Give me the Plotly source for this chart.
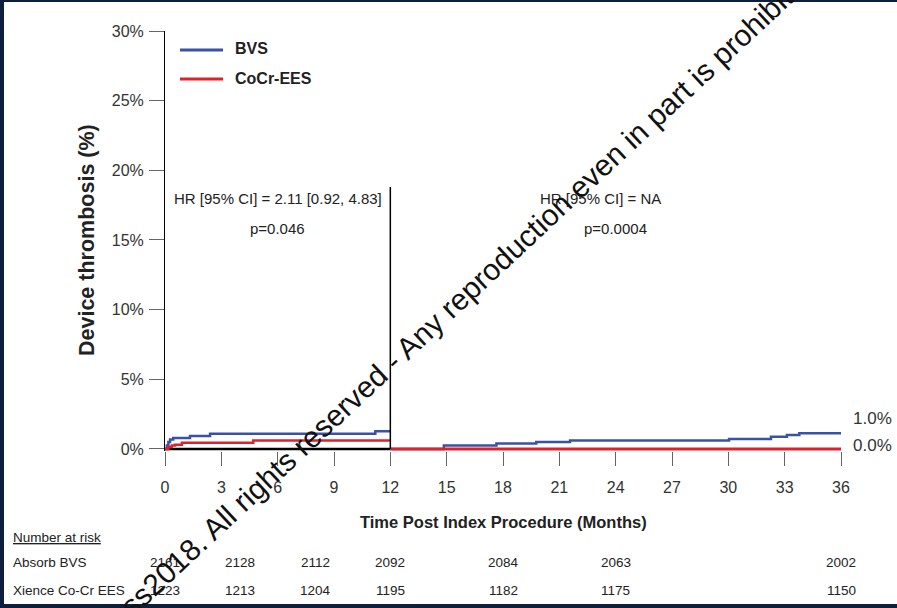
import plotly.graph_objects as go

# ---------------- data ----------------
months_ticks = [0, 3, 6, 9, 12, 15, 18, 21, 24, 27, 30, 33, 36]
pct_ticks = [0, 5, 10, 15, 20, 25, 30]
pct_labels = ["0%", "5%", "10%", "15%", "20%", "25%", "30%"]

# 0-12 months
bvs_t1 = [0, 0.1, 0.18, 0.27, 0.44, 1.33, 2.4, 11.2, 12]
bvs_y1 = [0, 0.25, 0.49, 0.68, 0.78, 0.92, 1.09, 1.26, 1.26]
ees_t1 = [0, 0.18, 0.36, 0.53, 0.9, 4.7, 12]
ees_y1 = [0, 0.13, 0.25, 0.30, 0.45, 0.61, 0.61]
# 12-36 months landmark
bvs_t2 = [12, 14.85, 17.65, 19.77, 21.57, 30.04, 32.27, 33.12, 33.78, 36]
bvs_y2 = [0, 0.24, 0.38, 0.50, 0.60, 0.72, 0.88, 1.0, 1.13, 1.13]
ees_t2 = [12, 36]
ees_y2 = [0, 0]
base_t = [0, 12]
base_y = [0, 0]

end_labels = ["1.0%", "0.0%"]

risk_times = [0, 4, 8, 12, 18, 24, 36]
risk_bvs = [2161, 2128, 2112, 2092, 2084, 2063, 2002]
risk_ees = [1223, 1213, 1204, 1195, 1182, 1175, 1150]
risk_groups = ["Absorb BVS", "Xience Co-Cr EES"]

BLUE = "#3a52a3"
RED = "#e0212b"
NAVY = "#0d1f3c"
FONT = "Arial, Liberation Sans, sans-serif"

W, H = 897, 608
L, R, T, B = 165, 897 - 841, 31, 608 - 451


def px(xp):
    return (xp - L) / (W - L - R)


def py(yp):
    return (H - B - yp) / (H - T - B)


def pann(x, y, text, size, xanchor="left", color="#222", **kw):
    return dict(x=px(x), y=py(y), xref="paper", yref="paper", xanchor=xanchor, yanchor="middle",
                text=text, showarrow=False, font=dict(size=size, color=color), **kw)


fig = go.Figure()
fig.add_trace(go.Scatter(x=base_t, y=base_y, mode="lines", line=dict(color="black", width=2.5),
                         hoverinfo="skip", showlegend=False))
fig.add_trace(go.Scatter(x=bvs_t1, y=bvs_y1, mode="lines", line=dict(color=BLUE, width=2.5, shape="hv"),
                         name="BVS", showlegend=False))
fig.add_trace(go.Scatter(x=ees_t1, y=ees_y1, mode="lines", line=dict(color=RED, width=2.5, shape="hv"),
                         name="CoCr-EES", showlegend=False))
fig.add_trace(go.Scatter(x=bvs_t2, y=bvs_y2, mode="lines", line=dict(color=BLUE, width=2.5, shape="hv"),
                         name="BVS", showlegend=False))
fig.add_trace(go.Scatter(x=ees_t2, y=ees_y2, mode="lines", line=dict(color=RED, width=3, shape="hv"),
                         name="CoCr-EES", showlegend=False))

ann = []
# HR texts
for xx, yy, tx in [(6.0, 18.0, "HR [95% CI] = 2.11 [0.92, 4.83]"), (6.0, 15.85, "p=0.046"),
                   (23.2, 18.0, "HR [95% CI] = NA"), (24.0, 15.85, "p=0.0004")]:
    ann.append(dict(x=xx, y=yy, xref="x", yref="y", xanchor="center", yanchor="middle", text=tx,
                    showarrow=False, font=dict(size=15, color="#222")))
# end labels
ann.append(pann(851, 418, end_labels[0], 17, color="#333"))
ann.append(pann(851, 445, end_labels[1], 17, color="#333"))
# axis titles
ann.append(pann(87, 240, "<b>Device thrombosis (%)</b>", 21.5, xanchor="center", textangle=-90))
ann.append(pann(503, 522, "<b>Time Post Index Procedure (Months)</b>", 16.5, xanchor="center"))
# legend
ann.append(pann(233, 49, "<b>BVS</b>", 16))
ann.append(pann(233, 78, "<b>CoCr-EES</b>", 16))
# number at risk
ann.append(pann(11, 537, "<u>Number at risk</u>", 13.5))
ann.append(pann(11, 562, risk_groups[0], 13.5))
ann.append(pann(11, 590, risk_groups[1], 13.5))
for t, a, b in zip(risk_times, risk_bvs, risk_ees):
    ann.append(dict(x=t, y=py(562), xref="x", yref="paper", xanchor="center", yanchor="middle",
                    text=str(a), showarrow=False, font=dict(size=13.5, color="#222")))
    ann.append(dict(x=t, y=py(590), xref="x", yref="paper", xanchor="center", yanchor="middle",
                    text=str(b), showarrow=False, font=dict(size=13.5, color="#222")))
# diagonal copyright watermark
ann.append(pann(468, 290, "ss2018. All rights reserved - Any reproduction even in part is prohibited", 30,
                xanchor="center", color="#111", textangle=-43))

shapes = [
    # divider at 12 months
    dict(type="line", xref="x", yref="y", x0=12, x1=12, y0=0, y1=18.8, line=dict(color="black", width=1.5)),
    # legend lines
    dict(type="line", xref="paper", yref="paper", x0=px(180), x1=px(223), y0=py(50), y1=py(50),
         line=dict(color=BLUE, width=3)),
    dict(type="line", xref="paper", yref="paper", x0=px(180), x1=px(223), y0=py(79), y1=py(79),
         line=dict(color=RED, width=3)),
    # navy frame
    dict(type="rect", xref="paper", yref="paper", x0=px(0), x1=px(4), y0=py(608), y1=py(0),
         fillcolor=NAVY, line=dict(width=0), layer="above"),
    dict(type="rect", xref="paper", yref="paper", x0=px(0), x1=px(897), y0=py(2), y1=py(0),
         fillcolor=NAVY, line=dict(width=0), layer="above"),
    dict(type="rect", xref="paper", yref="paper", x0=px(0), x1=px(897), y0=py(608), y1=py(604),
         fillcolor=NAVY, line=dict(width=0), layer="above"),
]

fig.update_layout(
    width=W, height=H,
    margin=dict(l=L, r=R, t=T, b=B, pad=0),
    paper_bgcolor="white", plot_bgcolor="white",
    font=dict(family=FONT, color="#222"),
    showlegend=False,
    annotations=ann,
    shapes=shapes,
    xaxis=dict(range=[0, 36], tickvals=months_ticks, ticktext=[str(m) for m in months_ticks],
               showgrid=False, zeroline=False, showline=False,
               ticks="outside", ticklen=14, tickcolor="#666", tickwidth=1,
               tickfont=dict(size=16, color="#333"), ticklabelstandoff=8, fixedrange=True),
    yaxis=dict(range=[-0.15, 30], tickvals=pct_ticks, ticktext=pct_labels,
               showgrid=False, zeroline=False, showline=True, linecolor="black", linewidth=1,
               ticks="outside", ticklen=15, tickcolor="#666", tickwidth=1,
               tickfont=dict(size=16, color="#333"), ticklabelstandoff=2, fixedrange=True),
)

fig.write_html("out.html", config={"displayModeBar": False},
               post_script="document.body.style.margin='0px';document.body.style.overflow='hidden';")
